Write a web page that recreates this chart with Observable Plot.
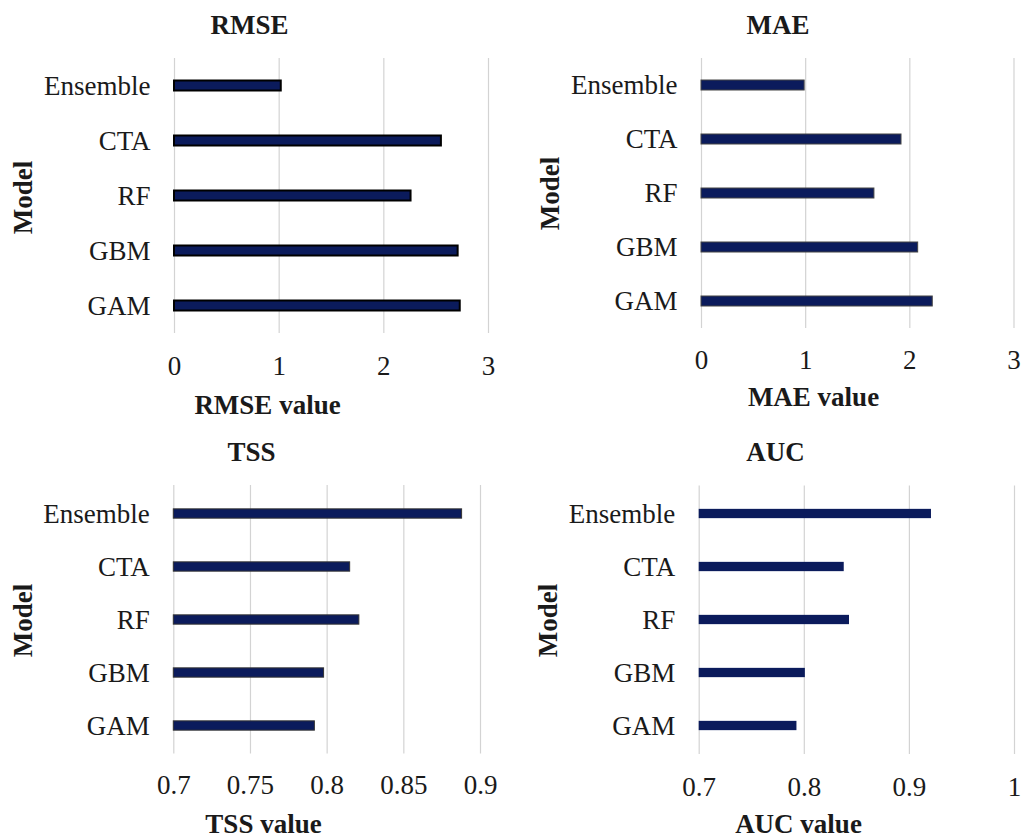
<!DOCTYPE html>
<html>
<head>
<meta charset="utf-8">
<script src="https://cdn.jsdelivr.net/npm/d3@7"></script>
<script src="https://cdn.jsdelivr.net/npm/@observablehq/plot@0.6"></script>
<style>
  html, body { margin: 0; padding: 0; background: #fff; overflow: hidden; }
  #chart { position: relative; width: 1021px; height: 839px; overflow: hidden; }
  .panel { position: absolute; }
  .panel svg { overflow: visible; }
</style>
</head>
<body>
<div id="chart"></div>
<script>
// Model evaluation scores, listed top to bottom as drawn
const models = ["Ensemble", "CTA", "RF", "GBM", "GAM"];
const rmseValues = [1.02, 2.55, 2.26, 2.71, 2.73];
const maeValues = [0.99, 1.92, 1.66, 2.08, 2.22];
const tssValues = [0.888, 0.815, 0.821, 0.798, 0.792];
const aucValues = [0.921, 0.838, 0.843, 0.801, 0.793];

// Axis ticks for each metric
const rmseTicks = [0, 1, 2, 3];
const maeTicks = [0, 1, 2, 3];
const tssTicks = [0.7, 0.75, 0.8, 0.85, 0.9];
const aucTicks = [0.7, 0.8, 0.9, 1];

const FONT = "'Liberation Serif', 'Times New Roman', serif";
const INK = "#1a1a1a";
const NAVY = "#0b1b5c";

function panel(spec) {
  const rows = models.map((m, i) => ({model: m, value: spec.values[i]}));
  const base = spec.ticks[0];
  const m = spec.margin;
  const step = (spec.height - m.top - m.bottom) / models.length;
  const inset = (step - spec.barHeight) / 2;
  // text positions are given in panel pixels; convert to offsets from the frame's top-left
  const at = (p) => ({
    frameAnchor: "top-left",
    dx: p[0] - m.left,
    dy: p[1] - m.top,
    textAnchor: "middle",
    lineAnchor: "middle"
  });

  const svg = Plot.plot({
    width: spec.width,
    height: spec.height,
    marginTop: m.top,
    marginRight: m.right,
    marginBottom: m.bottom,
    marginLeft: m.left,
    style: {fontFamily: FONT, fontSize: "27px", color: INK, background: "transparent"},
    x: {domain: [spec.ticks[0], spec.ticks[spec.ticks.length - 1]]},
    y: {domain: models, padding: 0},
    marks: [
      Plot.ruleX(spec.ticks, {stroke: "#d3d3d3", strokeWidth: 1.2}),
      Plot.barX(rows, {
        x1: () => base,
        x2: "value",
        y: "model",
        insetTop: inset,
        insetBottom: inset,
        fill: NAVY,
        stroke: spec.stroke,
        strokeWidth: spec.strokeWidth
      }),
      Plot.axisX({
        ticks: spec.ticks,
        tickFormat: (d) => String(d),
        tickSize: 0,
        tickPadding: spec.tickPadding,
        fontSize: 27,
        label: null
      }),
      Plot.axisY({
        tickSize: 0,
        tickPadding: 24,
        fontSize: 27,
        label: null
      }),
      Plot.text([spec.title], {...at(spec.titleAt), text: (d) => d, fontSize: 27, fontWeight: "bold", fill: INK}),
      Plot.text([spec.xLabel], {...at(spec.xLabelAt), text: (d) => d, fontSize: 27, fontWeight: "bold", fill: INK}),
      Plot.text(["Model"], {...at(spec.yLabelAt), text: (d) => d, rotate: -90, fontSize: 27, fontWeight: "bold", fill: INK})
    ]
  });

  const holder = document.createElement("div");
  holder.className = "panel";
  holder.style.left = spec.left + "px";
  holder.style.top = spec.top + "px";
  holder.appendChild(svg);
  document.getElementById("chart").appendChild(holder);
}

panel({
  title: "RMSE", xLabel: "RMSE value", values: rmseValues, ticks: rmseTicks,
  left: 0, top: 0, width: 510, height: 420,
  margin: {top: 58, right: 22, bottom: 87, left: 174},
  barHeight: 10, stroke: "#000", strokeWidth: 2, tickPadding: 22,
  titleAt: [249, 25], xLabelAt: [267, 405], yLabelAt: [23, 197]
});

panel({
  title: "MAE", xLabel: "MAE value", values: maeValues, ticks: maeTicks,
  left: 510, top: 0, width: 511, height: 420,
  margin: {top: 58, right: 7.5, bottom: 92, left: 191},
  barHeight: 10, stroke: "#444", strokeWidth: 1, tickPadding: 21,
  titleAt: [267.5, 25], xLabelAt: [303, 397], yLabelAt: [40, 193]
});

panel({
  title: "TSS", xLabel: "TSS value", values: tssValues, ticks: tssTicks,
  left: 0, top: 420, width: 510, height: 419,
  margin: {top: 65, right: 30, bottom: 85.5, left: 173.3},
  barHeight: 10, stroke: "#333", strokeWidth: 1, tickPadding: 20.5,
  titleAt: [251, 32], xLabelAt: [263, 404], yLabelAt: [23, 200]
});

panel({
  title: "AUC", xLabel: "AUC value", values: aucValues, ticks: aucTicks,
  left: 510, top: 420, width: 511, height: 419,
  margin: {top: 65.5, right: 7, bottom: 85, left: 188.7},
  barHeight: 10, stroke: "none", strokeWidth: 0, tickPadding: 22,
  titleAt: [265, 32], xLabelAt: [288, 404], yLabelAt: [38, 200]
});
</script>
</body>
</html>
